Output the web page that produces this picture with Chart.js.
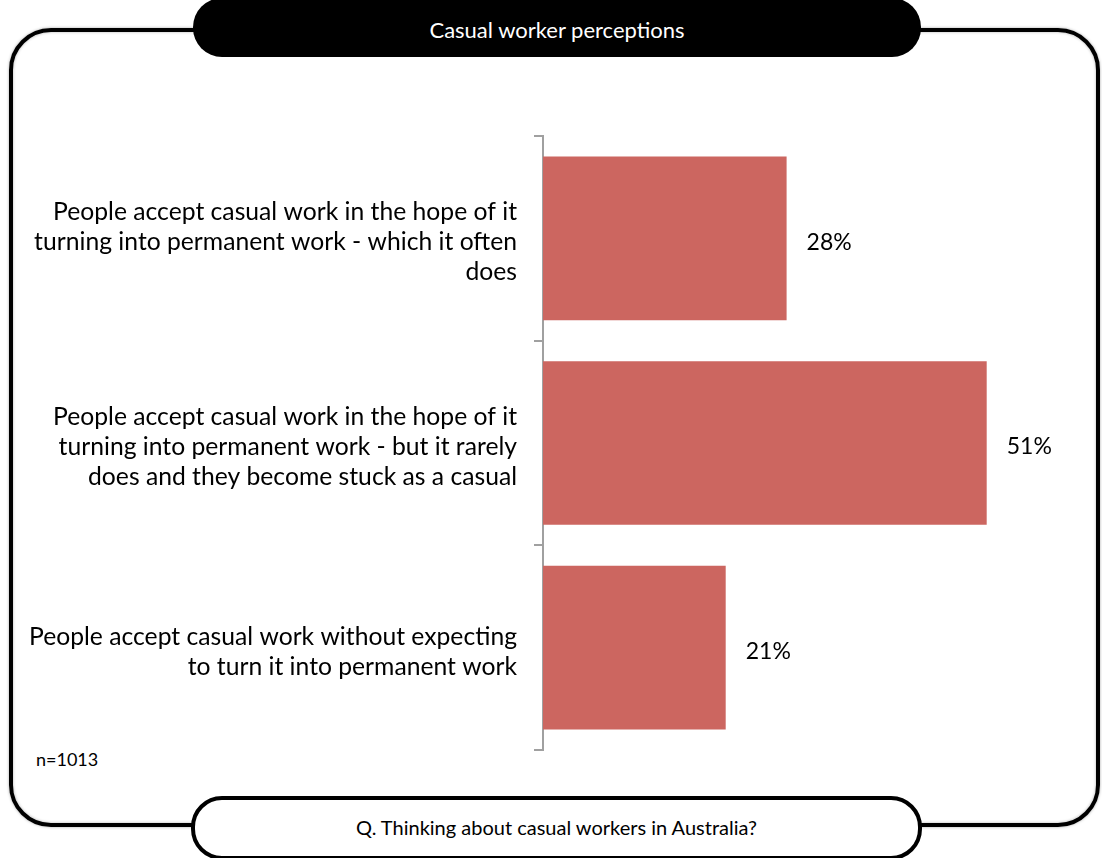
<!DOCTYPE html>
<html>
<head>
<meta charset="utf-8">
<script src="https://cdn.jsdelivr.net/npm/chart.js@4.4.1/dist/chart.umd.min.js"></script>
<style>
  html, body { margin: 0; padding: 0; background: #fff; }
  body { width: 1102px; height: 858px; position: relative; overflow: hidden; font-family: Lato, "Open Sans", sans-serif; }
  .frame {
    position: absolute; left: 9px; top: 28px; width: 1091px; height: 799px;
    box-sizing: border-box; border: 4px solid #000; border-radius: 42px;
    box-shadow: 0 0 3px rgba(0,0,0,0.35), inset 0 0 3px rgba(0,0,0,0.3);
  }
  .pill {
    position: absolute; box-sizing: border-box; display: flex;
    align-items: center; justify-content: center;
  }
  .title { left: 193px; top: -2px; width: 728px; height: 59px; border-radius: 29px; background: #000; color: #fff; font-size: 22px; padding-top: 3px; }
  .question { left: 191px; top: 796px; width: 731px; height: 64px; border-radius: 31px; background: #fff; border: 4px solid #000; color: #000; font-size: 20px; padding-bottom: 3px; }
  .note { position: absolute; left: 36px; top: 748px; font-size: 18px; color: #000; }
  #wrap { position: absolute; left: 0; top: 0; width: 1102px; height: 858px; }
</style>
</head>
<body>
<div class="frame"></div>
<div class="pill title">Casual worker perceptions</div>
<div class="pill question">Q. Thinking about casual workers in Australia?</div>
<div class="note">n=1013</div>
<div id="wrap"><canvas id="chart" width="1102" height="858"></canvas></div>

<script>
const categories = [
  ['People accept casual work in the hope of it', 'turning into permanent work - which it often', 'does'],
  ['People accept casual work in the hope of it', 'turning into permanent work - but it rarely', 'does and they become stuck as a casual'],
  ['People accept casual work without expecting', 'to turn it into permanent work']
];
const shares = [28, 51, 21];
const axisMax = 60;

// value labels just past the end of each bar
const valueLabels = {
  id: 'valueLabels',
  afterDatasetsDraw(chart) {
    const ctx = chart.ctx;
    const meta = chart.getDatasetMeta(0);
    ctx.save();
    ctx.font = '23px Lato, "Open Sans", sans-serif';
    ctx.fillStyle = '#000';
    ctx.textAlign = 'left';
    ctx.textBaseline = 'middle';
    meta.data.forEach((bar, i) => {
      ctx.fillText(shares[i] + '%', bar.x + 20, bar.y + 4);
    });
    ctx.restore();
  }
};

new Chart(document.getElementById('chart'), {
  type: 'bar',
  data: {
    labels: categories,
    datasets: [{
      data: shares,
      backgroundColor: '#CC6660',
      borderWidth: 0,
      categoryPercentage: 0.8,
      barPercentage: 1
    }]
  },
  options: {
    indexAxis: 'y',
    responsive: false,
    animation: false,
    devicePixelRatio: 1,
    layout: { padding: { left: 0, right: 37, top: 136, bottom: 108 } },
    plugins: {
      legend: { display: false },
      tooltip: { enabled: false },
      title: { display: false }
    },
    scales: {
      x: { display: false, min: 0, max: axisMax },
      y: {
        afterFit(scale) { scale.width = 543; },
        border: { display: true, color: '#a0a0a0', width: 2 },
        grid: { drawOnChartArea: false, drawTicks: true, tickLength: 9, color: '#a0a0a0', lineWidth: 2, offset: true },
        ticks: {
          color: '#000',
          padding: 17,
          labelOffset: 4,
          font: { family: 'Lato, "Open Sans", sans-serif', size: 24.7, lineHeight: '30px' }
        }
      }
    }
  },
  plugins: [valueLabels]
});
</script>
</body>
</html>
